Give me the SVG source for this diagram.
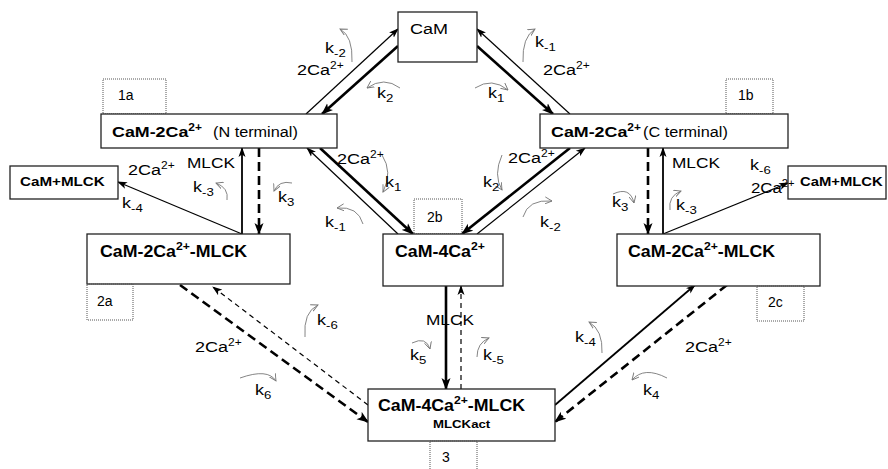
<svg xmlns="http://www.w3.org/2000/svg" width="888" height="469" viewBox="0 0 888 469">
<style>
text{font-family:"Liberation Sans",Arial,sans-serif;fill:#000}
.b{font-weight:bold}
.box{fill:#fff;stroke:#222;stroke-width:1.3}
.dot{fill:none;stroke:#555;stroke-width:1;stroke-dasharray:1,1}
.thin{stroke:#000;stroke-width:1.2;fill:none}
.med{stroke:#000;stroke-width:1.8;fill:none}
.thick{stroke:#000;stroke-width:2.6;fill:none}
.dthick{stroke:#000;stroke-width:2.6;fill:none;stroke-dasharray:9,5}
.dthin{stroke:#000;stroke-width:1.2;fill:none;stroke-dasharray:5,4}
.crv{stroke:#777;stroke-width:0.9;fill:none}
.k{font-size:15px}
.lbl{font-size:15px}
.sub{font-size:11px}
.sup{font-size:10px}
</style>
<defs>
<marker id="ah" markerUnits="userSpaceOnUse" markerWidth="12" markerHeight="10" refX="11" refY="5" orient="auto"><path d="M0,0.5 L12,5 L0,9.5 L3,5z" fill="#000"/></marker>
<marker id="ahs" markerUnits="userSpaceOnUse" markerWidth="10" markerHeight="8" refX="9" refY="4" orient="auto"><path d="M0,0.5 L10,4 L0,7.5 L2.5,4z" fill="#000"/></marker>
<marker id="oh" markerUnits="userSpaceOnUse" markerWidth="8" markerHeight="8" refX="7" refY="4" orient="auto"><path d="M0,0.5 L7,4 L0,7.5" fill="none" stroke="#777" stroke-width="0.9"/></marker>
</defs>

<g id="connectors">
<path class="thin" d="M306,114 L398,29" marker-end="url(#ahs)"/>
<path class="thick" d="M398,46 L322,114" marker-end="url(#ah)"/>
<path class="thin" d="M570,114 L477,29" marker-end="url(#ahs)"/>
<path class="thick" d="M477,46 L553,114" marker-end="url(#ah)"/>
<path class="thin" d="M398,234 L307,148" marker-end="url(#ahs)"/>
<path class="thick" d="M320,148 L413,234" marker-end="url(#ah)"/>
<path class="thick" d="M570,148 L462,234" marker-end="url(#ah)"/>
<path class="thin" d="M477,234 L585,148" marker-end="url(#ahs)"/>
<path class="med" d="M242,234 L242,148" marker-end="url(#ahs)"/>
<path class="dthick" d="M259,148 L259,234" marker-end="url(#ah)"/>
<path class="thin" d="M242,234 L118,182" marker-end="url(#ahs)"/>
<path class="dthick" d="M648,148 L648,234" marker-end="url(#ah)"/>
<path class="med" d="M663,234 L663,148" marker-end="url(#ahs)"/>
<path class="thin" d="M663,234 L788,183" marker-end="url(#ahs)"/>
<path class="thick" d="M446,286 L446,389" marker-end="url(#ah)"/>
<path class="dthin" d="M461,389 L461,286" marker-end="url(#ahs)"/>
<path class="dthick" d="M180,285 L368,422" marker-end="url(#ah)"/>
<path class="dthin" d="M368,405 L213,287" marker-end="url(#ahs)"/>
<path class="med" d="M555,405 L695,285" marker-end="url(#ahs)"/>
<path class="dthick" d="M727,285 L555,422" marker-end="url(#ah)"/>
</g>

<g id="rate-curves">
<path class="crv" d="M352,62 Q353,36 340,29" marker-end="url(#oh)"/>
<path class="crv" d="M400,88 Q384,76 367,88" marker-end="url(#oh)"/>
<path class="crv" d="M475,88 Q492,77 508,90" marker-end="url(#oh)"/>
<path class="crv" d="M523,62 Q522,37 535,29" marker-end="url(#oh)"/>
<path class="crv" d="M227,200 Q229,188 216,183" marker-end="url(#oh)"/>
<path class="crv" d="M292,183 Q279,180 274,191" marker-end="url(#oh)"/>
<path class="crv" d="M363,224 Q358,206 337,208" marker-end="url(#oh)"/>
<path class="crv" d="M382,155 Q393,172 383,192" marker-end="url(#oh)"/>
<path class="crv" d="M502,155 Q493,175 502,190" marker-end="url(#oh)"/>
<path class="crv" d="M523,217 Q528,199 552,201" marker-end="url(#oh)"/>
<path class="crv" d="M613,194 Q630,186 634,203" marker-end="url(#oh)"/>
<path class="crv" d="M670,210 Q668,196 681,191" marker-end="url(#oh)"/>
<path class="crv" d="M412,343 Q426,336 430,349" marker-end="url(#oh)"/>
<path class="crv" d="M477,357 Q477,343 489,338" marker-end="url(#oh)"/>
<path class="crv" d="M305,337 Q303,312 318,305" marker-end="url(#oh)"/>
<path class="crv" d="M240,378 Q268,368 276,381" marker-end="url(#oh)"/>
<path class="crv" d="M602,353 Q603,330 589,322" marker-end="url(#oh)"/>
<path class="crv" d="M667,378 Q644,366 632,380" marker-end="url(#oh)"/>
</g>

<g id="n-cam">
<rect class="box" x="398" y="12" width="79" height="50"/>
<text transform="translate(410,34) scale(1.2,1)" font-size="15">CaM</text>
</g>
<g id="n-1a">
<rect class="dot" x="103" y="79" width="63" height="35"/>
<text x="118" y="100" font-size="14">1a</text>
</g>
<g id="n-nterm">
<rect class="box" x="101" y="114" width="236" height="34"/>
<text class="b" transform="translate(112,137) scale(1.19,1)" font-size="15">CaM-2Ca<tspan class="sup" dy="-6">2+</tspan></text>
<text transform="translate(213,137) scale(1.16,1)" font-size="14">(N terminal)</text>
</g>
<g id="n-1b">
<rect class="dot" x="726" y="79" width="47" height="35"/>
<text x="738" y="100" font-size="14">1b</text>
</g>
<g id="n-cterm">
<rect class="box" x="540" y="114" width="248" height="34"/>
<text class="b" transform="translate(551,137) scale(1.19,1)" font-size="15">CaM-2Ca<tspan class="sup" dy="-6">2+</tspan></text>
<text transform="translate(643,137) scale(1.16,1)" font-size="14">(C terminal)</text>
</g>
<g id="n-cammlck-left">
<rect class="box" x="10" y="166" width="108" height="33"/>
<text class="b" transform="translate(20,186) scale(1.17,1)" font-size="13">CaM+MLCK</text>
</g>
<g id="n-cammlck-right">
<rect class="box" x="788" y="166" width="98" height="33"/>
<text class="b" transform="translate(800,186) scale(1.14,1)" font-size="13">CaM+MLCK</text>
</g>
<g id="n-2a-box">
<rect class="box" x="87" y="234" width="203" height="50"/>
<text class="b" transform="translate(100,257) scale(1.11,1)" font-size="16">CaM-2Ca<tspan font-size="11" dy="-7">2+</tspan><tspan dy="7">-MLCK</tspan></text>
</g>
<g id="n-2a">
<rect class="dot" x="87" y="284" width="46" height="36"/>
<text x="97" y="306" font-size="14">2a</text>
</g>
<g id="n-2b">
<rect class="dot" x="414" y="199" width="48" height="35"/>
<text x="427" y="222" font-size="14">2b</text>
</g>
<g id="n-4ca">
<rect class="box" x="383" y="234" width="120" height="52"/>
<text class="b" transform="translate(395,257) scale(1.11,1)" font-size="16">CaM-4Ca<tspan font-size="11" dy="-7">2+</tspan></text>
</g>
<g id="n-2c-box">
<rect class="box" x="617" y="234" width="203" height="52"/>
<text class="b" transform="translate(628,257) scale(1.11,1)" font-size="16">CaM-2Ca<tspan font-size="11" dy="-7">2+</tspan><tspan dy="7">-MLCK</tspan></text>
</g>
<g id="n-2c">
<rect class="dot" x="757" y="286" width="47" height="35"/>
<text x="768" y="307" font-size="14">2c</text>
</g>
<g id="n-4camlck">
<rect class="box" x="368" y="389" width="187" height="52"/>
<text class="b" transform="translate(378,411) scale(1.11,1)" font-size="16">CaM-4Ca<tspan font-size="11" dy="-7">2+</tspan><tspan dy="7">-MLCK</tspan></text>
<text class="b" transform="translate(433,428) scale(1.15,1)" font-size="11.5">MLCKact</text>
</g>
<g id="n-3">
<rect class="dot" x="430" y="441" width="47" height="40"/>
<text x="442" y="462" font-size="14">3</text>
</g>

<g id="labels">
<text class="k" transform="translate(325,53) scale(1.2,1)">k<tspan class="sub" dy="4">-2</tspan></text>
<text class="lbl" transform="translate(297,75) scale(1.2,1)">2Ca<tspan class="sup" dy="-6">2+</tspan></text>
<text class="k" transform="translate(377,98) scale(1.2,1)">k<tspan class="sub" dy="4">2</tspan></text>
<text class="k" transform="translate(488,98) scale(1.2,1)">k<tspan class="sub" dy="4">1</tspan></text>
<text class="k" transform="translate(535,47) scale(1.2,1)">k<tspan class="sub" dy="4">-1</tspan></text>
<text class="lbl" transform="translate(543,75) scale(1.2,1)">2Ca<tspan class="sup" dy="-6">2+</tspan></text>
<text class="lbl" transform="translate(337,164) scale(1.2,1)">2Ca<tspan class="sup" dy="-6">2+</tspan></text>
<text class="k" transform="translate(385,187) scale(1.2,1)">k<tspan class="sub" dy="4">1</tspan></text>
<text class="k" transform="translate(325,227) scale(1.2,1)">k<tspan class="sub" dy="4">-1</tspan></text>
<text class="lbl" transform="translate(508,163) scale(1.2,1)">2Ca<tspan class="sup" dy="-6">2+</tspan></text>
<text class="k" transform="translate(483,187) scale(1.2,1)">k<tspan class="sub" dy="4">2</tspan></text>
<text class="k" transform="translate(540,227) scale(1.2,1)">k<tspan class="sub" dy="4">-2</tspan></text>
<text class="lbl" transform="translate(128,175) scale(1.2,1)">2Ca<tspan class="sup" dy="-6">2+</tspan></text>
<text class="lbl" transform="translate(187,168) scale(1.15,1)">MLCK</text>
<text class="k" transform="translate(193,192) scale(1.2,1)">k<tspan class="sub" dy="4">-3</tspan></text>
<text class="k" transform="translate(122,208) scale(1.2,1)">k<tspan class="sub" dy="4">-4</tspan></text>
<text class="k" transform="translate(278,202) scale(1.2,1)">k<tspan class="sub" dy="4">3</tspan></text>
<text class="k" transform="translate(612,207) scale(1.2,1)">k<tspan class="sub" dy="4">3</tspan></text>
<text class="lbl" transform="translate(672,168) scale(1.15,1)">MLCK</text>
<text class="k" transform="translate(676,210) scale(1.2,1)">k<tspan class="sub" dy="4">-3</tspan></text>
<text class="k" transform="translate(750,170) scale(1.2,1)">k<tspan class="sub" dy="4">-6</tspan></text>
<text class="lbl" transform="translate(751,193) scale(1.12,1)">2Ca<tspan class="sup" dy="-6">2+</tspan></text>
<text class="lbl" transform="translate(426,325) scale(1.15,1)">MLCK</text>
<text class="k" transform="translate(410,360) scale(1.2,1)">k<tspan class="sub" dy="4">5</tspan></text>
<text class="k" transform="translate(483,360) scale(1.2,1)">k<tspan class="sub" dy="4">-5</tspan></text>
<text class="k" transform="translate(317,325) scale(1.2,1)">k<tspan class="sub" dy="4">-6</tspan></text>
<text class="lbl" transform="translate(195,352) scale(1.2,1)">2Ca<tspan class="sup" dy="-6">2+</tspan></text>
<text class="k" transform="translate(255,395) scale(1.2,1)">k<tspan class="sub" dy="4">6</tspan></text>
<text class="k" transform="translate(575,342) scale(1.2,1)">k<tspan class="sub" dy="4">-4</tspan></text>
<text class="lbl" transform="translate(685,352) scale(1.2,1)">2Ca<tspan class="sup" dy="-6">2+</tspan></text>
<text class="k" transform="translate(643,395) scale(1.2,1)">k<tspan class="sub" dy="4">4</tspan></text>
</g>
</svg>
